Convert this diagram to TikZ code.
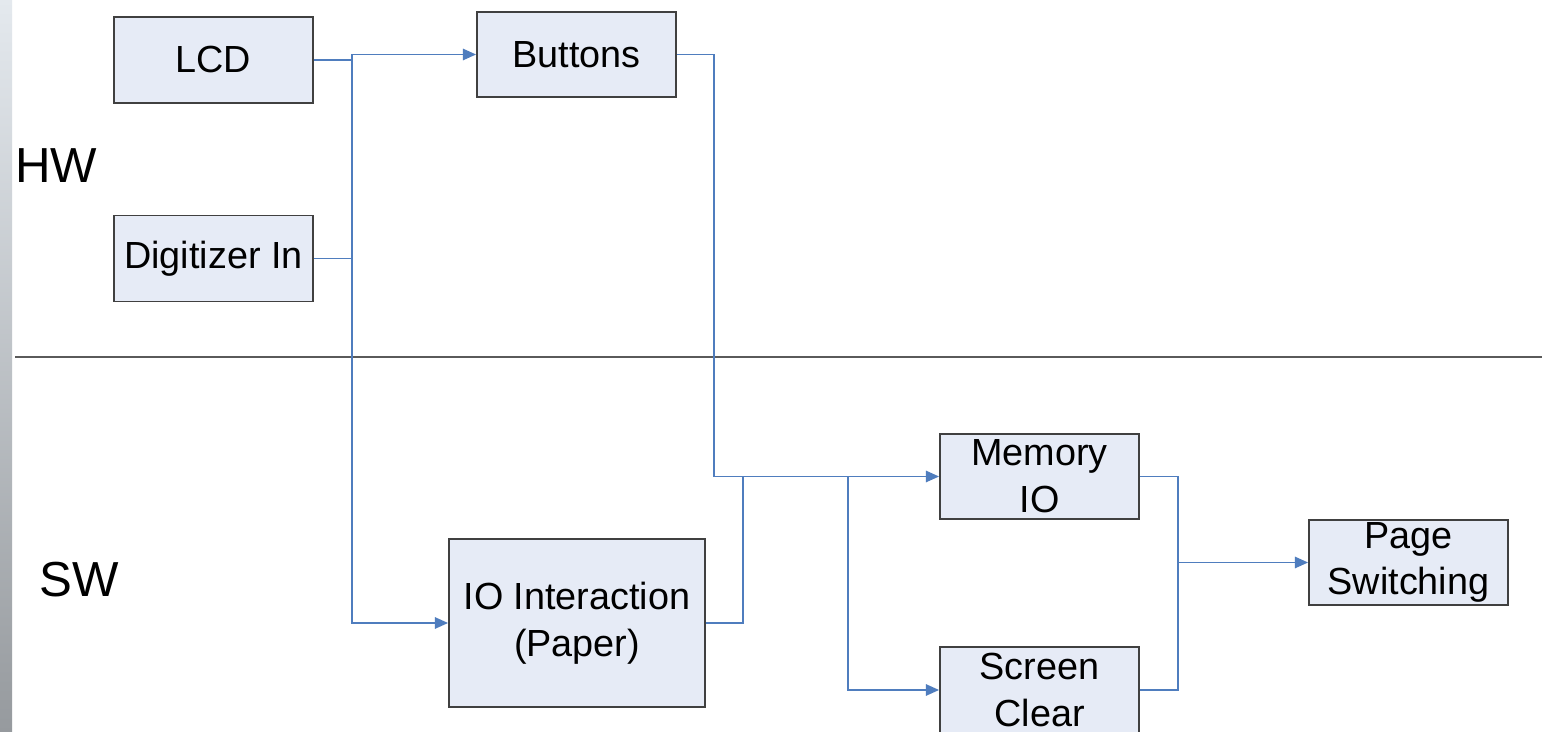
\documentclass[tikz,border=0pt]{standalone}
\usepackage{fontspec}
\setmainfont{Liberation Sans}
\usetikzlibrary{arrows.meta}
\definecolor{boxfill}{RGB}{230,235,246}
\definecolor{boxline}{RGB}{64,64,64}
\definecolor{conncol}{RGB}{79,125,190}
\definecolor{sepcol}{RGB}{90,90,90}
\tikzset{
  blk/.style={draw=boxline, line width=1.1pt, fill=boxfill, inner sep=0pt,
    align=center, font=\fontsize{21.5}{26.6}\selectfont},
  conn/.style={draw=conncol, line width=0.9pt},
  arr/.style={conn, -{Triangle[length=7.5pt,width=6.5pt]}},
  lbl/.style={font=\fontsize{28}{32}\selectfont, inner sep=0pt}
}
\begin{document}
\begin{tikzpicture}[x=0.02cm,y=-0.02cm]
\useasboundingbox (0,0) rectangle (1542,732);
\clip (0,0) rectangle (1542,732);
\fill[white] (0,0) rectangle (1542,732);
\shade[top color={rgb,255:red,228;green,233;blue,238}, bottom color={rgb,255:red,150;green,154;blue,158}] (0,0) rectangle (12,732);
% separator
\draw[sepcol, line width=1.1pt] (15,357) -- (1542,357);
\node[lbl] (hw) at (56,166) {HW};
\node[lbl] (sw) at (79,580) {SW};
% boxes
\node[blk, minimum width=3.98cm, minimum height=1.72cm] (lcd) at (213.5,60) {LCD};
\node[blk, minimum width=3.98cm, minimum height=1.72cm] (digi) at (213.5,258.5) {Digitizer In};
\node[blk, minimum width=3.98cm, minimum height=1.70cm] (btn) at (576.5,54.5) {Buttons};
\node[blk, minimum width=5.12cm, minimum height=3.36cm] (io) at (577,623) {IO Interaction\\(Paper)};
\node[blk, minimum width=3.98cm, minimum height=1.70cm] (mem) at (1039.5,476.5) {Memory\\IO};
\node[blk, minimum width=3.98cm, minimum height=1.72cm] (scr) at (1039.5,690) {Screen\\Clear};
\node[blk, minimum width=3.98cm, minimum height=1.70cm] (page) at (1408.5,562.5) {Page\\Switching};
% junction columns
\coordinate (vx) at (352,0);
\coordinate (bx) at (714,0);
\coordinate (ix) at (743,0);
\coordinate (br) at (848,0);
\coordinate (mx) at (1178,0);
% connectors
\draw[arr] (lcd.east) -- (vx |- lcd.east) -- (vx |- btn.west) -- (btn.west);
\draw[conn] (digi.east) -- (vx |- digi.east);
\draw[conn] (vx |- btn.west) -- (vx |- digi.east);
\draw[arr] (vx |- digi.east) |- (io.west);
\draw[arr] (btn.east) -- (bx |- btn.east) |- (mem.west);
\draw[conn] (io.east) -- (ix |- io.east) -- (ix |- mem.west);
\draw[arr] (br |- mem.west) |- (scr.west);
\draw[conn] (mem.east) -- (mx |- mem.east) |- (scr.east);
\draw[arr] (mx |- page.west) -- (page.west);
\end{tikzpicture}
\end{document}
